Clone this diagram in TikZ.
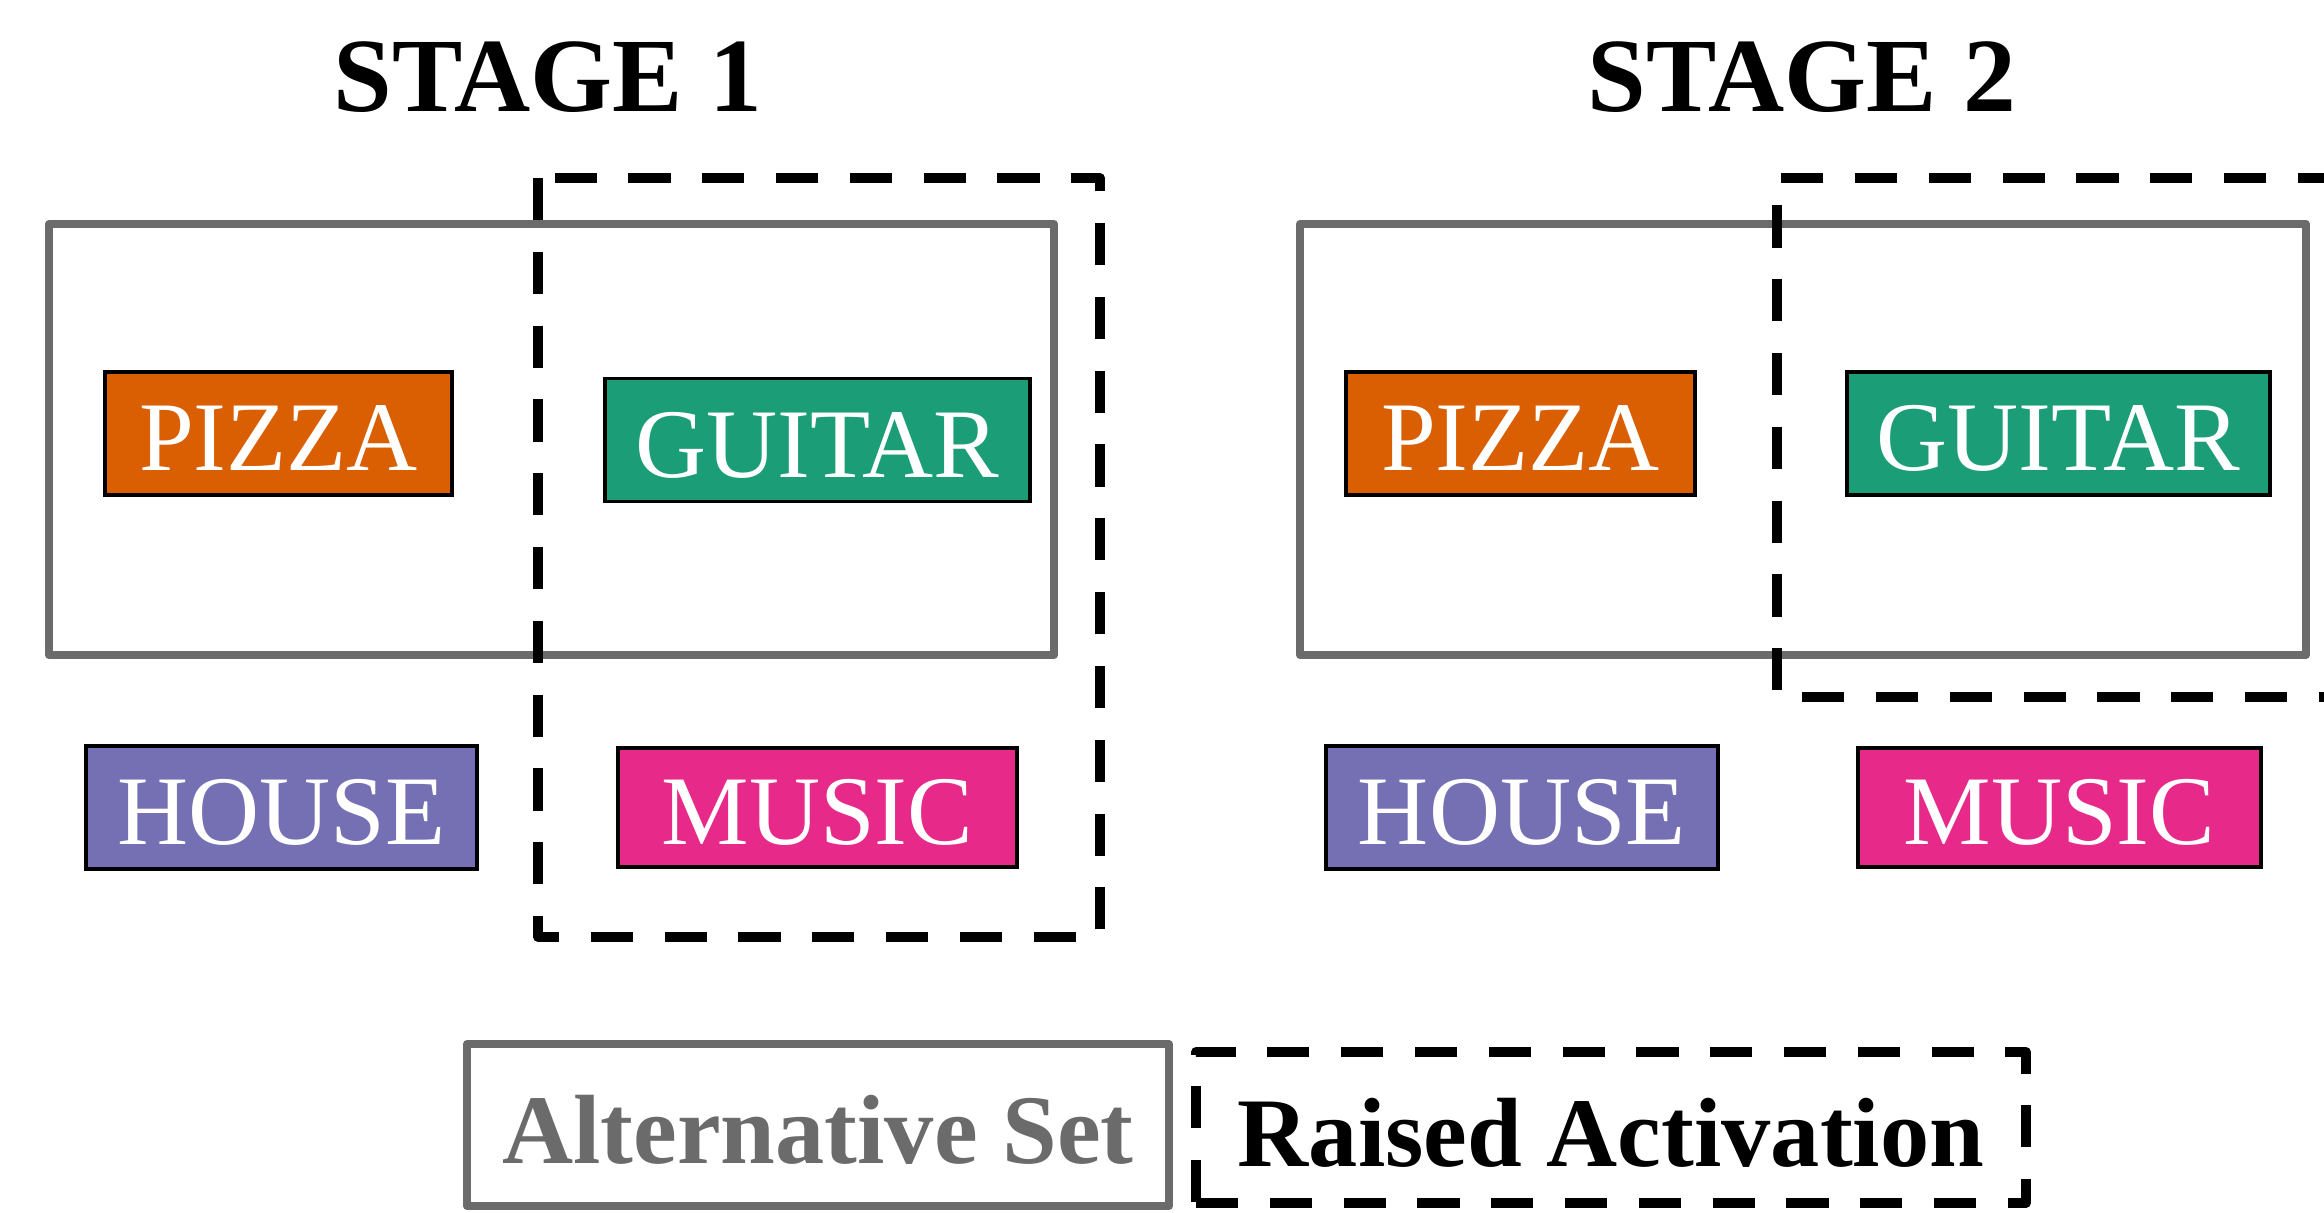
\documentclass[tikz,border=0pt]{standalone}
\usepackage{fontspec}
\setmainfont{Liberation Serif}
\usetikzlibrary{positioning}
\definecolor{pizzac}{HTML}{D95F02}
\definecolor{guitarc}{HTML}{1B9E77}
\definecolor{housec}{HTML}{7570B3}
\definecolor{musicc}{HTML}{E7298A}
\definecolor{setgray}{HTML}{6B6B6B}
\tikzstyle{word}=[draw=black,line width=1pt,text=white,inner xsep=0pt,minimum height=1.23cm,text height=0.74cm,text depth=0pt,font=\fontsize{28}{32}\selectfont]
\tikzstyle{altset}=[draw=setgray,line width=2.3pt,line join=round]
\tikzstyle{raised}=[draw=black,line width=2.8pt,line join=round,dash pattern=on 12pt off 9pt]
\tikzstyle{stage}=[font=\bfseries\fontsize{30}{34}\selectfont]
\tikzstyle{legend}=[font=\bfseries\fontsize{28}{32}\selectfont,inner sep=0pt,text height=0.77cm,text depth=0pt]

\begin{document}
\begin{tikzpicture}
            \useasboundingbox (0,0) rectangle (23.24,-12.12);

            \node (S1) [stage] at (5.48,-0.77) {STAGE 1};
            \node (S2) [stage] at (18.02,-0.77) {STAGE 2};

            % stage 1
            \draw[altset] (0.49,-2.24) rectangle (10.54,-6.55);
            \node (P1) [word, fill=pizzac, minimum width=3.47cm] at (2.785,-4.335) {PIZZA};
            \node (G1) [word, fill=guitarc, minimum width=4.25cm] at (8.175,-4.40) {GUITAR};
            \node (H1) [word, fill=housec, minimum width=3.91cm] at (2.815,-8.075) {HOUSE};
            \node (M1) [word, fill=musicc, minimum width=3.99cm, minimum height=1.19cm] at (8.175,-8.075) {MUSIC};
            \draw[raised] (5.38,-1.78) rectangle (11.00,-9.37);

            % stage 2
            \draw[altset] (13.00,-2.24) rectangle (23.06,-6.55);
            \node (P2) [word, fill=pizzac, minimum width=3.49cm] at (15.205,-4.335) {PIZZA};
            \node (G2) [word, fill=guitarc, minimum width=4.23cm] at (20.585,-4.335) {GUITAR};
            \node (H2) [word, fill=housec, minimum width=3.92cm] at (15.22,-8.075) {HOUSE};
            \node (M2) [word, fill=musicc, minimum width=4.03cm, minimum height=1.19cm] at (20.595,-8.075) {MUSIC};
            \draw[raised] (23.40,-1.78) -- (17.77,-1.78) -- (17.77,-6.97) -- (23.40,-6.97);

            % legend
            \node (L1) [legend, altset, text=setgray, minimum width=7.02cm, minimum height=1.62cm] at (8.18,-11.25) {Alternative Set};
            \node (L2) [legend, raised, minimum width=8.30cm, minimum height=1.51cm] at (16.11,-11.275) {Raised Activation};
        \end{tikzpicture}
\end{document}
